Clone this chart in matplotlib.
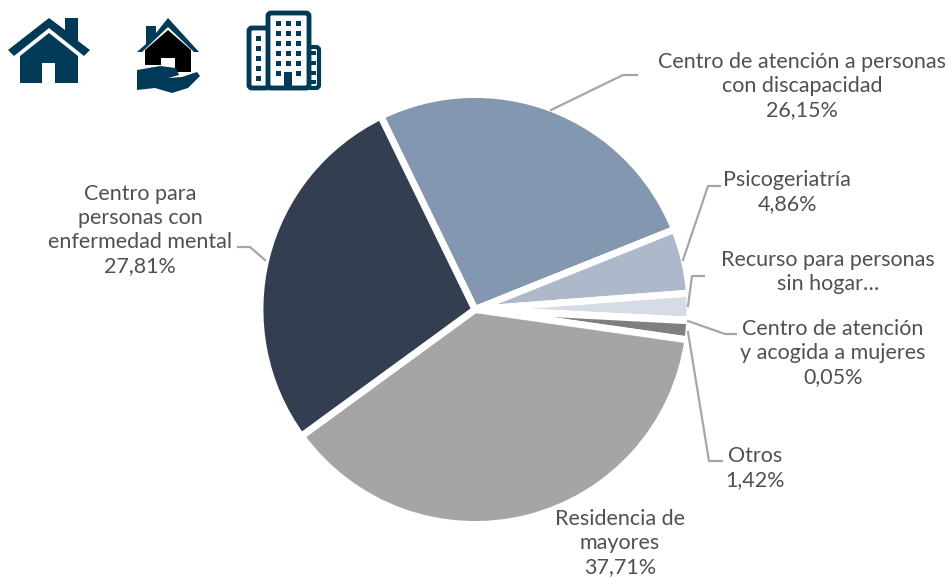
import matplotlib
matplotlib.use("Agg")
import matplotlib.pyplot as plt
from matplotlib.patches import Polygon, Rectangle, FancyBboxPatch

W, H = 952, 578
categories = ["Centro de atención a personas con discapacidad", "Psicogeriatría",
              "Recurso para personas sin hogar", "Centro de atención y acogida a mujeres",
              "Otros", "Residencia de mayores", "Centro para personas con enfermedad mental"]
values = [26.15, 4.86, 2.00, 0.05, 1.42, 37.71, 27.81]
colors = ["#8497B0", "#ADB9CA", "#D6DCE5", "#A5A5A5", "#7F7F7F", "#A5A5A5", "#333F50"]
label_texts = ["Centro de atención a personas\ncon discapacidad\n26,15%", "Psicogeriatría\n4,86%",
               "Recurso para personas\nsin hogar…", "Centro de atención\ny acogida a mujeres\n0,05%",
               "Otros\n1,42%", "Residencia de\nmayores\n37,71%", "Centro para\npersonas con\nenfermedad mental\n27,81%"]
label_pos = [(802, 86), (787, 192), (828, 272), (833, 353), (755, 468), (620, 543), (140, 230)]
leaders = [[(551, 110), (623, 75), (637, 75)], [(683, 260), (708, 186), (720, 186)],
           [(688, 306), (692, 276), (704, 276)], [(688, 321), (725, 334), (736, 334)],
           [(688, 332), (709, 461), (722, 461)], None, [(265, 260), (250, 247), (238, 247)]]
explode = [0.032] * len(values)

NAVY = "#003A57"
def Y(p):
    return H - p

fig = plt.figure(figsize=(W / 100, H / 100), dpi=100)
ax = fig.add_axes([0, 0, 1, 1])
ax.pie(values, colors=colors, startangle=116, counterclock=False, explode=explode,
       center=(475, Y(309.5)), radius=215, frame=True,
       wedgeprops=dict(edgecolor="white", linewidth=5))
ax.set_xlim(0, W)
ax.set_ylim(0, H)
ax.set_aspect("equal")
ax.axis("off")

for pts in leaders:
    if pts:
        ax.plot([p[0] for p in pts], [Y(p[1]) for p in pts], color="#A6A6A6", lw=1.6, zorder=1)

for txt, (x, y) in zip(label_texts, label_pos):
    ax.text(x, Y(y), txt, ha="center", va="center", fontsize=15.5, family="Lato",
            color="#505050", linespacing=1.24)

def poly(pts, color=NAVY, z=5):
    ax.add_patch(Polygon([(x, Y(y)) for x, y in pts], closed=True, fc=color, ec="none", zorder=z))

def box(x0, y0, x1, y1, color=NAVY, z=5):
    ax.add_patch(Rectangle((x0, Y(y1)), x1 - x0, y1 - y0, fc=color, ec="none", zorder=z))

# icon 1: house
poly([(8, 50), (49, 18), (65, 30), (65, 18), (78, 18), (78, 41), (90, 50), (84, 56), (49, 28), (14, 56)])
poly([(20, 56), (49, 33), (78, 56), (78, 83), (55, 83), (55, 63), (42, 63), (42, 83), (20, 83)])

# icon 2: house in hand
poly([(137, 52), (146, 44), (146, 26), (156, 26), (156, 33), (168, 18), (199, 52), (194, 52), (168, 27), (142, 52)])
poly([(145, 50), (168, 30), (191, 50), (191, 72), (175, 72), (175, 58), (161, 58), (161, 65), (145, 65)], color="black")
poly([(137, 70), (160, 66), (176, 68), (179, 75), (168, 78), (182, 77), (197, 72), (200, 76), (188, 88), (172, 93),
      (155, 88), (137, 90)])

# icon 3: buildings
ax.add_patch(FancyBboxPatch((249, Y(88)), 20, 60, boxstyle="round,pad=0,rounding_size=3", fc="white", ec=NAVY, lw=3.5, zorder=5))
ax.add_patch(FancyBboxPatch((268, Y(88)), 41, 75, boxstyle="round,pad=0,rounding_size=3", fc="white", ec=NAVY, lw=3.5, zorder=6))
ax.add_patch(FancyBboxPatch((308, Y(88)), 11, 41, boxstyle="round,pad=0,rounding_size=3", fc="white", ec=NAVY, lw=3, zorder=5))
box(284, 72, 292, 88, z=7)
for cy in (23, 33, 43, 53, 63, 73):
    for cx in (278, 288, 298):
        if cy == 73 and cx == 288:
            continue
        box(cx - 2.5, cy - 2.5, cx + 2.5, cy + 2.5, z=7)
for cy in (38, 48, 58, 68, 78):
    box(256, cy - 2.5, 261, cy + 2.5, z=7)
for cy in (53, 63, 73, 82):
    box(311, cy - 2, 316, cy + 2, z=7)

fig.savefig("out.png", dpi=100)
